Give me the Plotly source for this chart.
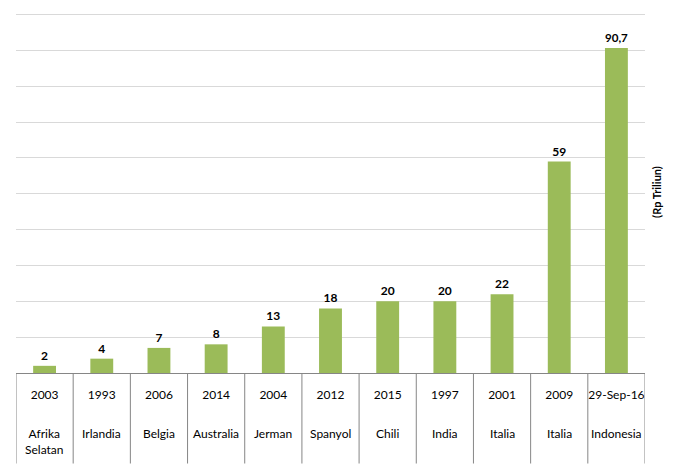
import plotly.graph_objects as go

years = ["2003", "1993", "2006", "2014", "2004", "2012", "2015", "1997", "2001", "2009", "29-Sep-16"]
countries = ["Afrika<br>Selatan", "Irlandia", "Belgia", "Australia", "Jerman", "Spanyol",
             "Chili", "India", "Italia", "Italia", "Indonesia"]
values = [2, 4, 7, 8, 13, 18, 20, 20, 22, 59, 90.7]
labels = ["2", "4", "7", "8", "13", "18", "20", "20", "22", "59", "90,7"]

FONT = "Lato"
xs = list(range(len(values)))

fig = go.Figure()
fig.add_trace(go.Bar(
    x=xs, y=values, text=labels, textposition="outside",
    textfont=dict(family=FONT, size=12, color="#000000", weight="bold"),
    marker=dict(color="#9BBB59", line=dict(width=0)),
    cliponaxis=False, hoverinfo="skip",
))

# country labels (second level of category axis)
for i, c in enumerate(countries):
    fig.add_annotation(x=i, y=-0.141, xref="x", yref="paper", text=c,
                       showarrow=False, yanchor="top", align="center",
                       font=dict(family=FONT, size=12, color="#000000"))

# separators between categories
for i in range(len(values) + 1):
    fig.add_shape(type="line", xref="x", yref="paper", x0=i - 0.5, x1=i - 0.5,
                  y0=0, y1=-0.25, line=dict(color="#868686", width=1))

fig.update_layout(
    width=673, height=463,
    margin=dict(l=8, r=36, t=3, b=98),
    paper_bgcolor="white", plot_bgcolor="white",
    showlegend=False, bargap=0.6,
    font=dict(family=FONT, size=12, color="#000000"),
    xaxis=dict(tickmode="array", tickvals=xs, ticktext=years,
               range=[-0.5, len(values) - 0.5], showgrid=False,
               showline=True, linecolor="#868686", linewidth=1,
               ticks="", ticklabelstandoff=11,
               tickfont=dict(family=FONT, size=12, color="#000000"),
               fixedrange=True),
    yaxis=dict(range=[0, 101], tickvals=list(range(10, 101, 10)), showticklabels=False, side="right",
               showgrid=True, gridcolor="#D9D9D9", gridwidth=1,
               zeroline=False, showline=False, ticks="",
               title=dict(text="(Rp Triliun)", standoff=8,
                          font=dict(family=FONT, size=11, color="#000000", weight="bold")),
               automargin=False),
)

fig.write_html("out.html")
